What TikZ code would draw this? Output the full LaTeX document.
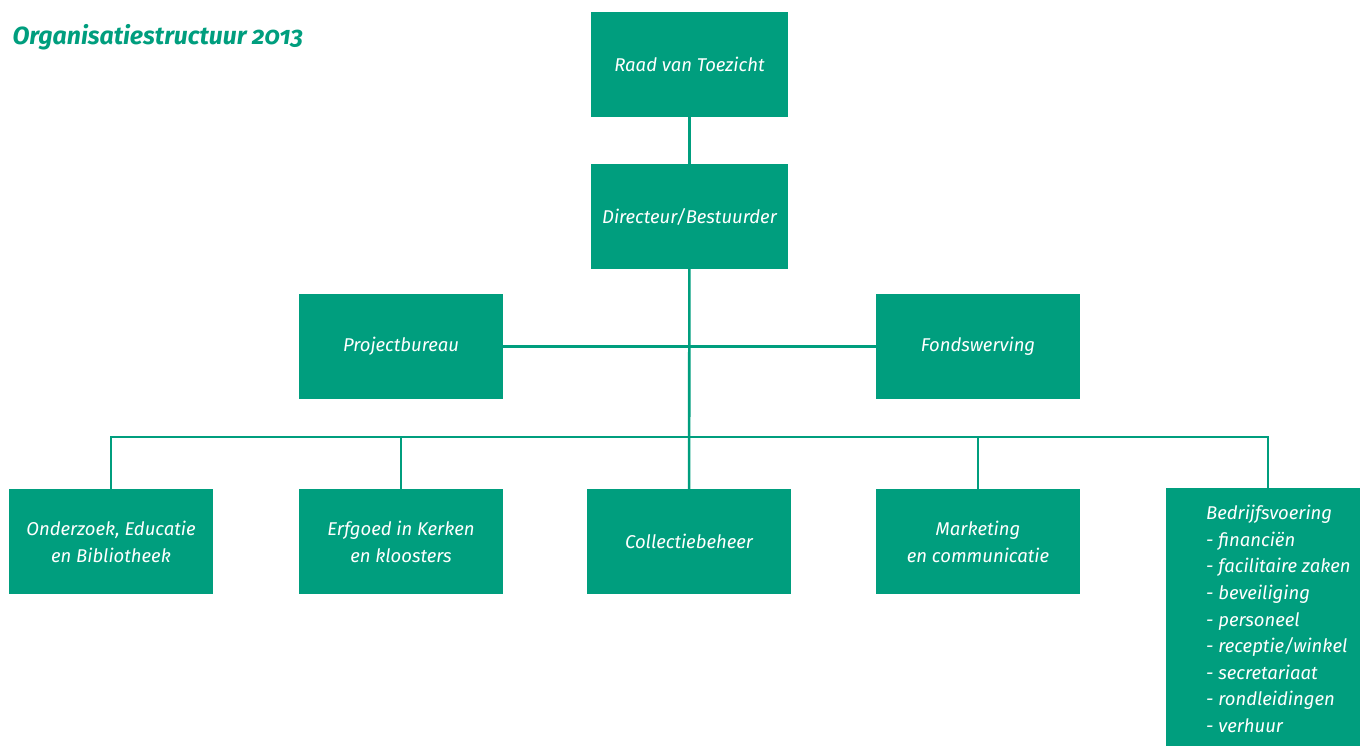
\documentclass[tikz,border=0pt]{standalone}
\usepackage{fontspec}
\setmainfont[Numbers=OldStyle]{Fira Sans}
\definecolor{orggreen}{RGB}{0,158,126}
\begin{document}
\begin{tikzpicture}[x=1pt,y=-1pt,
        box/.style={fill=orggreen,text=white,font=\itshape\fontsize{18.5}{27}\selectfont,
            align=center,minimum width=204,minimum height=105,inner sep=0pt},
        link/.style={draw=orggreen,line width=2.6pt}]
        \useasboundingbox (0,0) rectangle (1360,745);
        %% title
        \node[anchor=base west,text=orggreen,font=\itshape\bfseries\fontsize{24.8}{27}\selectfont] (title) at (9,44) {Organisatiestructuur 2013};
        %% top
        \node[box,minimum width=197] (raad) at (689.5,64) {Raad van Toezicht};
        \node[box,minimum width=197] (dir) at (689.5,216.5) {Directeur/Bestuurder};
        %% staff
        \node[box] (project) at (401,346.5) {Projectbureau};
        \node[box] (fonds) at (978,346.5) {Fondswerving};
        %% departments
        \node[box] (onderzoek) at (111,541.5) {Onderzoek, Educatie\\en Bibliotheek};
        \node[box] (erfgoed) at (401,541.5) {Erfgoed in Kerken\\en kloosters};
        \node[box] (collectie) at (689,541.5) {Collectiebeheer};
        \node[box] (marketing) at (978,541.5) {Marketing\\en communicatie};
        \node[box,anchor=north,minimum height=262] (bedrijf) at (1268,488) {};
        \node[anchor=north west,text=white,align=left,inner sep=0pt,
            font=\itshape\fontsize{18.5}{26.6}\selectfont] (bedrijftext) at (1206,505)
            {Bedrijfsvoering\\- financiën\\- facilitaire zaken\\- beveiliging\\- personeel\\- receptie/winkel\\- secretariaat\\- rondleidingen\\- verhuur};
        %% lines
        \coordinate (bus) at (689,437);
        \draw[link] (raad) -- (dir);
        \draw[link] (dir) -- (collectie);
        \draw[link] (project) -- (fonds);
        \foreach \n in {onderzoek,erfgoed,marketing,bedrijf}
            \draw[link] (\n.north) |- (bus);
\end{tikzpicture}
\end{document}
